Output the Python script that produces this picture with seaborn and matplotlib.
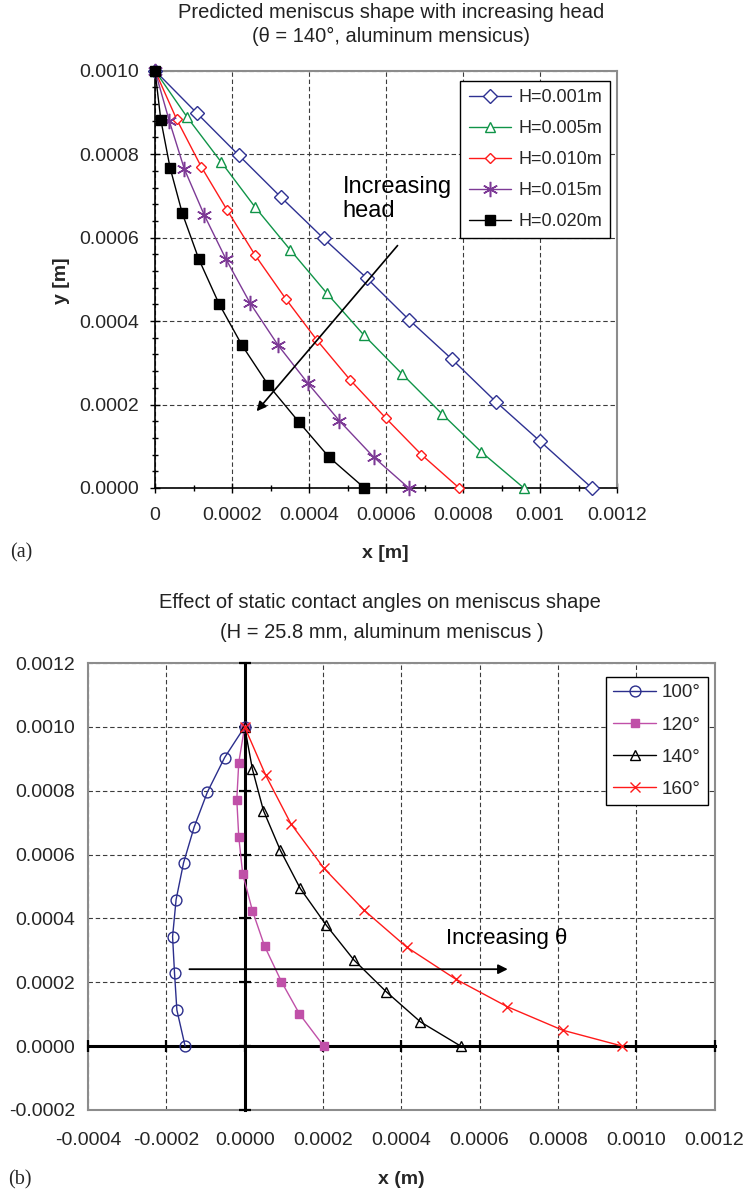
import matplotlib
matplotlib.use("Agg")
import matplotlib.pyplot as plt
import seaborn as sns
import pandas as pd
from matplotlib.ticker import FixedLocator, FixedFormatter, MultipleLocator, FormatStrFormatter

# ---------------- data: (a) increasing head, theta = 140 deg ----------------
head_labels = ["H=0.001m", "H=0.005m", "H=0.010m", "H=0.015m", "H=0.020m"]
x_h001 = [0, 0.000108, 0.000218, 0.000327, 0.000438, 0.000550, 0.000661, 0.000772, 0.000885, 0.000999, 0.001135]
y_h001 = [0.001, 0.000899, 0.000797, 0.000697, 0.000598, 0.000503, 0.000402, 0.000308, 0.000207, 0.000113, 0]
x_h005 = [0, 0.000084, 0.000172, 0.000260, 0.000351, 0.000446, 0.000542, 0.000642, 0.000745, 0.000848, 0.000958]
y_h005 = [0.001, 0.000888, 0.000781, 0.000673, 0.000571, 0.000467, 0.000367, 0.000273, 0.000178, 0.000086, 0]
x_h010 = [0, 0.000056, 0.000120, 0.000188, 0.000260, 0.000339, 0.000420, 0.000506, 0.000599, 0.000692, 0.000790]
y_h010 = [0.001, 0.000884, 0.000770, 0.000665, 0.000558, 0.000454, 0.000355, 0.000260, 0.000168, 0.000080, 0]
x_h015 = [0, 0.000037, 0.000076, 0.000128, 0.000184, 0.000247, 0.000319, 0.000397, 0.000479, 0.000568, 0.000659]
y_h015 = [0.001, 0.000880, 0.000765, 0.000654, 0.000549, 0.000443, 0.000343, 0.000251, 0.000161, 0.000074, 0]
x_h020 = [0, 0.000015, 0.000039, 0.000071, 0.000114, 0.000166, 0.000226, 0.000294, 0.000373, 0.000452, 0.000544]
y_h020 = [0.001, 0.000883, 0.000768, 0.000658, 0.000548, 0.000442, 0.000342, 0.000247, 0.000159, 0.000074, 0]

# ---------------- data: (b) static contact angles, H = 25.8 mm ----------------
angle_labels = ["100°", "120°", "140°", "160°"]
x_a100 = [0, -0.000051, -0.000095, -0.000129, -0.000156, -0.000175, -0.000184, -0.000179, -0.000173, -0.000152]
y_a100 = [0.001, 0.000904, 0.000796, 0.000686, 0.000574, 0.000459, 0.000343, 0.000228, 0.000113, 0]
x_a120 = [0, -0.000015, -0.000020, -0.000015, -0.000005, 0.000020, 0.000051, 0.000094, 0.000140, 0.000202]
y_a120 = [0.001, 0.000888, 0.000772, 0.000656, 0.000540, 0.000424, 0.000313, 0.000202, 0.000101, 0]
x_a140 = [0, 0.000020, 0.000048, 0.000091, 0.000142, 0.000209, 0.000279, 0.000362, 0.000449, 0.000552]
y_a140 = [0.001, 0.000867, 0.000738, 0.000614, 0.000494, 0.000378, 0.000270, 0.000170, 0.000076, 0]
x_a160 = [0, 0.000054, 0.000118, 0.000202, 0.000304, 0.000414, 0.000539, 0.000670, 0.000812, 0.000965]
y_a160 = [0.001, 0.000848, 0.000697, 0.000558, 0.000427, 0.000310, 0.000210, 0.000124, 0.000050, 0]

# ---------------- ticks ----------------
top_xticks = [0, 0.0002, 0.0004, 0.0006, 0.0008, 0.0010, 0.0012]
top_xticklabels = ["0", "0.0002", "0.0004", "0.0006", "0.0008", "0.001", "0.0012"]
top_yticks = [0, 0.0002, 0.0004, 0.0006, 0.0008, 0.0010]
bot_xticks = [-0.0004, -0.0002, 0, 0.0002, 0.0004, 0.0006, 0.0008, 0.0010, 0.0012]
bot_yticks = [-0.0002, 0, 0.0002, 0.0004, 0.0006, 0.0008, 0.0010, 0.0012]

# annotation arrows (data coords)
top_arrow_from = (0.00063, 0.000581)
top_arrow_to = (0.000264, 0.000184)
bot_arrow_from = (-0.000141, 0.000241)
bot_arrow_to = (0.000672, 0.000241)

# ---------------- style ----------------
sns.set_theme(style="white")
plt.rcParams["font.family"] = ["Liberation Sans", "DejaVu Sans"]
plt.rcParams["axes.unicode_minus"] = False

W, H = 746, 1192
fig = plt.figure(figsize=(W / 100, H / 100), dpi=100)


def fx(px):
    return px / W


def fy(py):
    return 1 - py / H


GRID = dict(color="#3c3c3c", linestyle=(0, (4, 2.5)), linewidth=0.8)
BOX = "#8c8c8c"

# =============== (a) ===============
axa = fig.add_axes([fx(155), fy(488), fx(617) - fx(155), fy(70.7) - fy(488)])
c1, c2, c3, c4, c5 = "#2E3192", "#109448", "#FF1A1A", "#7D3A96", "black"
top_series = [
    (x_h001, y_h001, dict(color=c1, marker="D", mfc="white", mec=c1, ms=7.5, mew=1.0)),
    (x_h005, y_h005, dict(color=c2, marker="^", mfc="white", mec=c2, ms=7.5, mew=1.0)),
    (x_h010, y_h010, dict(color=c3, marker="D", mfc="white", mec=c3, ms=5.5, mew=1.0)),
    (x_h015, y_h015, dict(color=c4, marker=(6, 2, 0), mec=c4, ms=11, mew=1.1)),
    (x_h020, y_h020, dict(color=c5, marker="s", mfc=c5, mec=c5, ms=6.5, mew=1.0)),
]
for (xs, ys, st), lab in zip(top_series, head_labels):
    sns.lineplot(x=xs, y=ys, ax=axa, sort=False, estimator=None, label=lab,
                 lw=1.0, clip_on=False, zorder=3, **st)

axa.set_xlim(0, 0.0012)
axa.set_ylim(0, 0.001)
axa.xaxis.set_major_locator(FixedLocator(top_xticks))
axa.xaxis.set_major_formatter(FixedFormatter(top_xticklabels))
axa.xaxis.set_minor_locator(MultipleLocator(0.0001))
axa.yaxis.set_major_locator(FixedLocator(top_yticks))
axa.yaxis.set_major_formatter(FormatStrFormatter("%.4f"))
axa.yaxis.set_minor_locator(MultipleLocator(0.00004))
axa.grid(True, which="major", **GRID)
axa.set_axisbelow(True)
for s in ["top", "right"]:
    axa.spines[s].set_color(BOX)
    axa.spines[s].set_linewidth(1.5)
for s in ["left", "bottom"]:
    axa.spines[s].set_color("black")
    axa.spines[s].set_linewidth(1.2)
axa.tick_params(which="major", direction="inout", length=7.5, width=1.0, color="black",
                labelsize=14, left=True, bottom=True)
axa.tick_params(which="minor", direction="inout", length=4.5, width=1.0, color="black",
                left=True, bottom=True)
axa.tick_params(axis="y", which="major", pad=7.5)
axa.tick_params(axis="x", which="major", pad=10)
axa.set_xlabel("")
axa.set_ylabel("")

lega = axa.legend(loc="upper right", bbox_to_anchor=(0.985, 0.976), borderaxespad=0,
                  fontsize=13, frameon=True, fancybox=False, edgecolor="black",
                  framealpha=1, handlelength=2.35, handletextpad=0.4,
                  labelspacing=0.78, borderpad=0.45)
lega.get_frame().set_linewidth(1.0)

axa.annotate("", xy=top_arrow_to, xytext=top_arrow_from,
             arrowprops=dict(arrowstyle="-|>", color="black", lw=1.2,
                             mutation_scale=14, shrinkA=0, shrinkB=0), zorder=5)
axa.text(0.000487, 0.000748, "Increasing\nhead", fontsize=17, ha="left", va="top",
         linespacing=1.1, color="black", zorder=5)

fig.text(fx(391), fy(12.7), "Predicted meniscus shape with increasing head",
         ha="center", va="center", fontsize=14.5, color="#222222")
fig.text(fx(391), fy(36.7), "(θ = 140°, aluminum mensicus)",
         ha="center", va="center", fontsize=14.5, color="#222222")
fig.text(fx(385), fy(553), "x [m]", ha="center", va="center", fontsize=14, fontweight="bold")
fig.text(fx(62), fy(281), "y [m]", ha="center", va="center", fontsize=14,
         fontweight="bold", rotation=90)
fig.text(fx(21), fy(553), "(a)", ha="center", va="center", fontsize=14.5,
         family=["Liberation Serif", "DejaVu Serif"])

# =============== (b) ===============
rect_b = [fx(88), fy(1110), fx(714.5) - fx(88), fy(663) - fy(1110)]
axb = fig.add_axes(rect_b)
axb.set_xlim(-0.0004, 0.0012)
axb.set_ylim(-0.0002, 0.0012)
axb.xaxis.set_major_locator(FixedLocator(bot_xticks))
axb.yaxis.set_major_locator(FixedLocator(bot_yticks))
axb.xaxis.set_major_formatter(FormatStrFormatter("%.4f"))
axb.yaxis.set_major_formatter(FormatStrFormatter("%.4f"))
axb.grid(True, which="major", **GRID)
for s in axb.spines.values():
    s.set_color(BOX)
    s.set_linewidth(1.5)
axb.tick_params(length=0, labelsize=14)
axb.tick_params(axis="y", pad=9)
axb.tick_params(axis="x", pad=16)

axz = fig.add_axes(rect_b, sharex=axb, sharey=axb, facecolor="none")
axz.spines["left"].set_position(("data", 0))
axz.spines["bottom"].set_position(("data", 0))
axz.spines["top"].set_visible(False)
axz.spines["right"].set_visible(False)
for s in ["left", "bottom"]:
    axz.spines[s].set_color("black")
    axz.spines[s].set_linewidth(2.2)
axz.tick_params(direction="inout", length=8, width=1.6, color="black",
                labelleft=False, labelbottom=False, left=True, bottom=True)
axz.grid(False)

d1, d2, d3, d4 = "#2B2E8C", "#C050A8", "black", "#FF1A1A"
bot_series = [
    (x_a100, y_a100, dict(color=d1, marker="o", mfc="none", mec=d1, ms=7.8, mew=1.0)),
    (x_a120, y_a120, dict(color=d2, marker="s", mfc=d2, mec=d2, ms=6, mew=1.0)),
    (x_a140, y_a140, dict(color=d3, marker="^", mfc="none", mec=d3, ms=6.5, mew=1.0)),
    (x_a160, y_a160, dict(color=d4, marker="x", mec=d4, ms=7.5, mew=1.0)),
]
for (xs, ys, st), lab in zip(bot_series, angle_labels):
    sns.lineplot(x=xs, y=ys, ax=axz, sort=False, estimator=None, label=lab,
                 lw=1.0, zorder=3, **st)
axz.set_xlim(-0.0004, 0.0012)
axz.set_ylim(-0.0002, 0.0012)
axz.set_xlabel("")
axz.set_ylabel("")

legb = axz.legend(loc="upper right", bbox_to_anchor=(0.990, 0.969), borderaxespad=0,
                  fontsize=13.5, frameon=True, fancybox=False, edgecolor="black",
                  framealpha=1, handlelength=2.3, handletextpad=0.3,
                  labelspacing=0.8, borderpad=0.4)
legb.get_frame().set_linewidth(1.0)

axz.annotate("", xy=bot_arrow_to, xytext=bot_arrow_from,
             arrowprops=dict(arrowstyle="-|>", color="black", lw=1.3,
                             mutation_scale=14, shrinkA=0, shrinkB=0), zorder=5)
axz.text(0.000514, 0.000338, "Increasing θ", fontsize=16, ha="left", va="center",
         color="black", zorder=5)

fig.text(fx(380), fy(602), "Effect of static contact angles on meniscus shape",
         ha="center", va="center", fontsize=14.5, color="#222222")
fig.text(fx(382), fy(633), "(H = 25.8 mm, aluminum meniscus )",
         ha="center", va="center", fontsize=14.5, color="#222222")
fig.text(fx(401), fy(1180), "x (m)", ha="center", va="center", fontsize=14, fontweight="bold")
fig.text(fx(20), fy(1180), "(b)", ha="center", va="center", fontsize=14.5,
         family=["Liberation Serif", "DejaVu Serif"])

fig.savefig("out.png", dpi=100, facecolor="white")
